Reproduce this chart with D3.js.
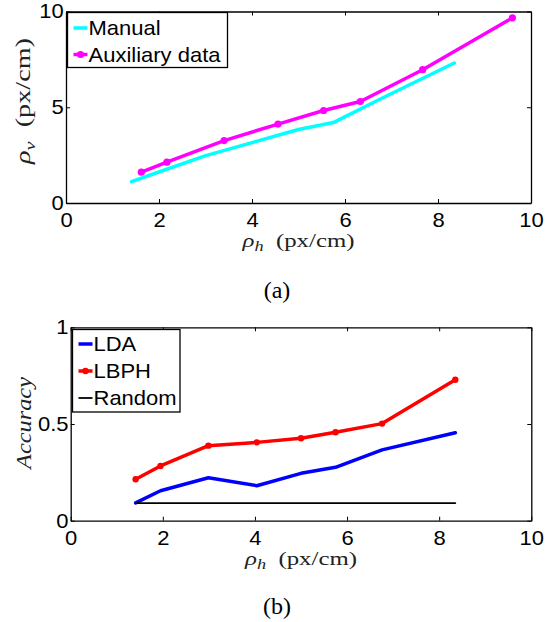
<!DOCTYPE html>
<html>
<head>
<meta charset="utf-8">
<script src="https://cdn.jsdelivr.net/npm/d3@7"></script>
<style>
  body { margin: 0; background: white; }
  svg { display: block; }
</style>
</head>
<body>
<div id="chart"></div>
<script>
"use strict"

// --- data ---
// (a) pixel density: vertical vs horizontal
let manualH = [1.41, 1.95, 2.99, 4.04, 5.00, 5.75, 6.76, 8.35];
let manualV = [1.12, 1.58, 2.46, 3.18, 3.84, 4.20, 5.43, 7.31];
let auxH = [1.62, 2.17, 3.40, 4.56, 5.54, 6.33, 7.67, 9.60];
let auxV = [1.61, 2.13, 3.26, 4.12, 4.83, 5.30, 6.96, 9.67];

// (b) recognition accuracy vs horizontal density
let accH = [1.41, 1.95, 2.99, 4.04, 5.00, 5.75, 6.76, 8.35];
let ldaAcc = [0.092, 0.155, 0.222, 0.181, 0.245, 0.276, 0.366, 0.455];
let lbphAcc = [0.214, 0.283, 0.388, 0.405, 0.426, 0.457, 0.502, 0.729];
let randomAcc = [0.091, 0.091, 0.091, 0.091, 0.091, 0.091, 0.091, 0.091];

let xTicks = [0, 2, 4, 6, 8, 10];
let yTicksA = [0, 5, 10];
let yTicksB = [0, 0.5, 1];

const W = 552, H = 622;
const sans = "'Liberation Sans', Arial, Helvetica, sans-serif";
const serif = "'Liberation Serif', 'Times New Roman', serif";
const stretch = 1.1;   // the figure's Helvetica is a bit wide

let svg = d3.select("#chart").append("svg")
  .attr("width", W)
  .attr("height", H)
  .style("background", "white");

function drawPanel(opt) {
  let x = d3.scaleLinear().domain([0, 10]).range([opt.left, opt.right]);
  let y = d3.scaleLinear().domain(opt.yDomain).range([opt.bottom, opt.top]);

  let g = svg.append("g");

  // mirrored inward ticks on all four sides
  let axes = [
    { ax: d3.axisBottom(x).tickValues(xTicks), at: "translate(0," + opt.bottom + ")", labels: true },
    { ax: d3.axisTop(x).tickValues(xTicks), at: "translate(0," + opt.top + ")", labels: false },
    { ax: d3.axisLeft(y).tickValues(opt.yTicks).tickFormat(d3.format("")), at: "translate(" + opt.left + ",0)", labels: true },
    { ax: d3.axisRight(y).tickValues(opt.yTicks), at: "translate(" + opt.right + ",0)", labels: false }
  ];

  axes.forEach(function(a, i) {
    let ag = g.append("g")
      .attr("transform", a.at)
      .call(a.ax.tickSizeInner(-4).tickSizeOuter(0).tickPadding(i < 2 ? 10 : 2));
    ag.select(".domain").attr("stroke", "black").attr("stroke-width", 1.3);
    ag.selectAll(".tick line").attr("stroke", "black").attr("stroke-width", 1);
    ag.selectAll(".tick text")
      .style("font-family", sans)
      .style("font-size", "20px")
      .attr("fill", "black")
      .attr("transform", "scale(" + stretch + ",1)")
      .style("display", a.labels ? null : "none");
  });

  // x label: rho_h (px/cm)
  let xl = g.append("text")
    .attr("x", (opt.left + opt.right) / 2)
    .attr("y", opt.bottom + 44)
    .attr("text-anchor", "middle")
    .attr("textLength", 112)
    .attr("lengthAdjust", "spacingAndGlyphs")
    .style("font-family", serif)
    .style("font-size", "19px")
    .attr("fill", "#222");
  xl.append("tspan").style("font-style", "italic").text("ρ");
  xl.append("tspan").style("font-style", "italic").style("font-size", "14px").attr("dy", 4).text("h");
  xl.append("tspan").attr("dy", -4).text("\u2002(px/cm)");

  // y label
  let yl = g.append("text")
    .attr("transform", "translate(" + opt.yLabelX + "," + opt.yLabelY + ") rotate(-90)")
    .attr("text-anchor", "middle")
    .attr("textLength", opt.yLabelLen)
    .attr("lengthAdjust", "spacingAndGlyphs")
    .style("font-family", serif)
    .style("font-size", "21px")
    .attr("fill", "#222");
  opt.yLabel(yl);

  // panel caption
  g.append("text")
    .attr("x", 277)
    .attr("y", opt.captionY)
    .attr("text-anchor", "middle")
    .style("font-family", serif)
    .style("font-size", "24px")
    .attr("fill", "black")
    .text(opt.caption);

  // series
  let line = d3.line()
    .x(d => x(d[0]))
    .y(d => y(d[1]));

  opt.series.forEach(function(s) {
    let pts = d3.zip(s.xs, s.ys);
    g.append("path")
      .datum(pts)
      .attr("fill", "none")
      .attr("stroke", s.color)
      .attr("stroke-width", s.width)
      .attr("stroke-linejoin", "round")
      .attr("stroke-linecap", "round")
      .attr("d", line);
    if (s.marker) {
      g.selectAll(null)
        .data(pts)
        .enter().append("circle")
        .attr("cx", d => x(d[0]))
        .attr("cy", d => y(d[1]))
        .attr("r", s.marker)
        .attr("fill", s.color);
    }
  });

  // legend
  let lg = opt.legend;
  g.append("rect")
    .attr("x", lg.x)
    .attr("y", lg.y)
    .attr("width", lg.w)
    .attr("height", lg.h)
    .attr("fill", "white")
    .attr("stroke", "black")
    .attr("stroke-width", 1.3);

  opt.series.forEach(function(s, i) {
    let cy = lg.y + lg.first + i * lg.step;
    g.append("line")
      .attr("x1", lg.x + 6)
      .attr("x2", lg.x + 20)
      .attr("y1", cy)
      .attr("y2", cy)
      .attr("stroke", s.color)
      .attr("stroke-width", s.width);
    if (s.marker) {
      g.append("circle")
        .attr("cx", lg.x + 13)
        .attr("cy", cy)
        .attr("r", s.marker)
        .attr("fill", s.color);
    }
    g.append("text")
      .attr("transform", "translate(" + (lg.x + 21) + "," + (cy + 7) + ") scale(" + stretch + ",1)")
      .style("font-family", sans)
      .style("font-size", "20px")
      .attr("fill", "black")
      .text(s.name);
  });
}

// (a)
drawPanel({
  left: 66, right: 531, top: 11.5, bottom: 203,
  yDomain: [0, 10],
  yTicks: yTicksA,
  yLabelX: 30, yLabelY: 101, yLabelLen: 126,
  yLabel: function(t) {
    t.append("tspan").style("font-style", "italic").text("ρ");
    t.append("tspan").style("font-style", "italic").style("font-size", "15px").attr("dy", 5).text("v");
    t.append("tspan").attr("dy", -5).text("\u2002(px/cm)");
  },
  caption: "(a)", captionY: 298,
  series: [
    { name: "Manual", xs: manualH, ys: manualV, color: "#00ffff", width: 3.5, marker: 0 },
    { name: "Auxiliary data", xs: auxH, ys: auxV, color: "#ff00ff", width: 3.5, marker: 3.6 }
  ],
  legend: { x: 67.5, y: 12.5, w: 160, h: 55, first: 15.5, step: 26.5 }
});

// (b)
drawPanel({
  left: 70.7, right: 531.3, top: 327.3, bottom: 520.7,
  yDomain: [0, 1],
  yTicks: yTicksB,
  yLabelX: 31, yLabelY: 423, yLabelLen: 92,
  yLabel: function(t) {
    t.style("font-style", "italic").text("Accuracy");
  },
  caption: "(b)", captionY: 614,
  series: [
    { name: "LDA", xs: accH, ys: ldaAcc, color: "#0000ff", width: 3.5, marker: 0 },
    { name: "LBPH", xs: accH, ys: lbphAcc, color: "#ff0000", width: 3.5, marker: 3.2 },
    { name: "Random", xs: accH, ys: randomAcc, color: "black", width: 1.8, marker: 0 }
  ],
  legend: { x: 72.5, y: 329.5, w: 107.5, h: 82.5, first: 14.5, step: 27 }
});
</script>
</body>
</html>
